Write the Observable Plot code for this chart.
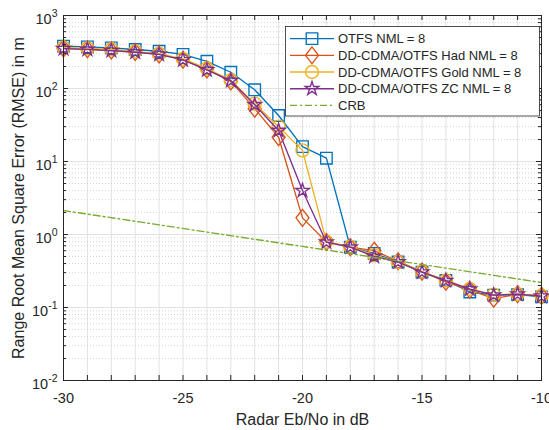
<!DOCTYPE html>
<html><head><meta charset="utf-8">
<script src="https://cdn.jsdelivr.net/npm/d3@7"></script>
<script src="https://cdn.jsdelivr.net/npm/@observablehq/plot@0.6"></script>
<style>body{margin:0;background:#fff}#chart{width:549px;height:430px}</style>
</head><body><div id="chart"></div>
<script>
const snr = [-30,-29,-28,-27,-26,-25,-24,-23,-22,-21,-20,-19,-18,-17,-16,-15,-14,-13,-12,-11,-10];
const otfs = [380,372,360,342,324,293,236,167,96,42.7,16,11.1,0.67,0.55,0.42,0.305,0.235,0.163,0.148,0.15,0.14];
const had  = [355,345,332,316,293,248,182,125,53,21.5,1.69,0.79,0.67,0.6,0.43,0.31,0.225,0.175,0.132,0.152,0.145];
const gold = [365,355,345,322,300,255,188,130,62,30,14.2,0.8,0.68,0.52,0.42,0.31,0.235,0.18,0.15,0.152,0.145];
const zc   = [352,343,331,314,293,247,180,128,60,26.6,4.0,0.785,0.67,0.5,0.42,0.305,0.233,0.178,0.148,0.152,0.143];
const crbX = [-30,-25,-20,-15,-10];
const crb  = [2.13,1.21,0.686,0.388,0.22];
const xTickValues = [-30,-25,-20,-15,-10];
const xTickLabels = ["-30","-25","-20","-15","-10"];
const yTickValues = [1e-2,1e-1,1,1e1,1e2,1e3];
const yTickLabels = ["10^-2","10^-1","10^0","10^1","10^2","10^3"];
const seriesNames = ["OTFS NML = 8","DD-CDMA/OTFS Had NML = 8","DD-CDMA/OTFS Gold NML = 8","DD-CDMA/OTFS ZC NML = 8","CRB"];
const colors = ["#0072BD","#D95319","#EDB120","#7E2F8E","#77AC30"];
const xLabel = "Radar Eb/No in dB";
const yLabel = "Range Root Mean Square Error (RMSE) in m";

const rhombus = {draw(ctx, size){ const r=Math.sqrt(size/Math.PI); const w=r*1.0, h=r*1.3;
  ctx.moveTo(0,-h); ctx.lineTo(w,0); ctx.lineTo(0,h); ctx.lineTo(-w,0); ctx.closePath(); }};
const symbols = [d3.symbolSquare, rhombus, d3.symbolCircle, d3.symbolStar];
const radii = [6.5, 6.5, 6.5, 4.3];
const seriesVals = [otfs, had, gold, zc];
const SW = 1.35;

const xAll = d3.range(-30, -9, 1);
const yMinor = [];
for (let e = -2; e < 3; e++) for (let m = 2; m <= 9; m++) yMinor.push(m * Math.pow(10, e));

const W = 549, H = 430, mL = 63, mR = 8, mT = 15, mB = 50;
const pw = W - mL - mR, ph = H - mT - mB;
const ink = "#262626";

const marks = [
  Plot.ruleX(xAll.slice(1,-1), {x: d=>d, stroke:"#e2e2e2", strokeWidth:1}),
  Plot.ruleY(yMinor, {y: d=>d, stroke:"#d6d6d6", strokeWidth:1, strokeDasharray:"1,2"}),
  Plot.ruleY(yTickValues.slice(1,-1), {y: d=>d, stroke:"#e2e2e2", strokeWidth:1}),
];
seriesVals.forEach((vals, k) => {
  const data = snr.map((x,i)=>({x, y: vals[i]}));
  marks.push(Plot.line(data, {x:"x", y:"y", stroke: colors[k], strokeWidth:SW}));
  marks.push(Plot.dot(data, {x:"x", y:"y", stroke: colors[k], fill:"none", strokeWidth:SW, r:radii[k], symbol: symbols[k]}));
});
marks.push(Plot.line(crbX.map((x,i)=>({x, y: crb[i]})), {x:"x", y:"y", stroke: colors[4], strokeWidth:SW, strokeDasharray:"7,3,2,3"}));
// inward ticks
marks.push(Plot.tickX(xAll, {x: d=>d, insetTop: ph-5, stroke: ink}));
marks.push(Plot.tickX(xAll, {x: d=>d, insetBottom: ph-5, stroke: ink}));
marks.push(Plot.tickY(yTickValues, {y: d=>d, insetRight: pw-5, stroke: ink}));
marks.push(Plot.tickY(yTickValues, {y: d=>d, insetLeft: pw-5, stroke: ink}));
marks.push(Plot.tickY(yMinor, {y: d=>d, insetRight: pw-3, stroke: ink}));
marks.push(Plot.tickY(yMinor, {y: d=>d, insetLeft: pw-3, stroke: ink}));
marks.push(Plot.frame({stroke: ink, strokeWidth: 1}));
marks.push(Plot.axisX(xTickValues, {tickSize:0, tickPadding:12, tickFormat: d=>xTickLabels[xTickValues.indexOf(d)], label:null, fill: ink}));
marks.push(Plot.axisY(yTickValues, {tickSize:0, tickPadding:6, tickFormat: d=>yTickLabels[yTickValues.indexOf(d)], label:null, fill: ink}));
marks.push(Plot.text([xLabel], {text: d=>d, frameAnchor:"bottom", textAnchor:"middle", dy: 44, fontSize: 16, fill: ink}));
marks.push(Plot.text([yLabel], {text: d=>d, frameAnchor:"left", textAnchor:"middle", lineAnchor:"middle", rotate: -90, dx: -45, fontSize: 16, fill: ink}));

const svg = Plot.plot({
  width: W, height: H, marginLeft: mL, marginRight: mR, marginTop: mT, marginBottom: mB,
  style: {fontFamily: "'Liberation Sans', Arial, Helvetica, sans-serif", fontSize: "14.5px", background: "#fff", color: ink},
  x: {domain: [-30, -10]},
  y: {type: "log", domain: [1e-2, 1e3]},
  marks
});
document.getElementById("chart").appendChild(svg);

// superscript y tick labels
svg.querySelectorAll('[aria-label="y-axis tick label"] text').forEach(t => {
  const s = t.textContent; const [base, ex] = s.split("^");
  t.textContent = "";
  const NS = "http://www.w3.org/2000/svg";
  const a = document.createElementNS(NS, "tspan"); a.textContent = base; t.appendChild(a);
  const b = document.createElementNS(NS, "tspan"); b.textContent = ex; b.setAttribute("dy", "-6.5"); b.setAttribute("font-size", "10.5"); t.appendChild(b);
  t.setAttribute("transform", (t.getAttribute("transform")||"") + " translate(0,3.5)");
});

// legend
const g = d3.select(svg).append("g").attr("font-size", 13).attr("fill", ink).attr("text-anchor", "start");
g.append("rect").attr("x", 285.5).attr("y", 26.5).attr("width", 254).attr("height", 89.5)
  .attr("fill", "#fff").attr("stroke", ink).attr("stroke-width", 0.8);
seriesNames.forEach((name, i) => {
  const y = 38.6 + i * 16.7;
  const ln = g.append("line").attr("x1", 290).attr("x2", 334).attr("y1", y).attr("y2", y)
    .attr("stroke", colors[i]).attr("stroke-width", SW);
  if (i === 4) ln.attr("stroke-dasharray", "7,3,2,3");
  else g.append("path").attr("transform", `translate(312,${y})`)
    .attr("d", d3.symbol(symbols[i], Math.PI*radii[i]*radii[i])())
    .attr("fill", "none").attr("stroke", colors[i]).attr("stroke-width", SW);
  g.append("text").attr("x", 338).attr("y", y).attr("dy", "0.35em").text(name);
});
</script></body></html>
